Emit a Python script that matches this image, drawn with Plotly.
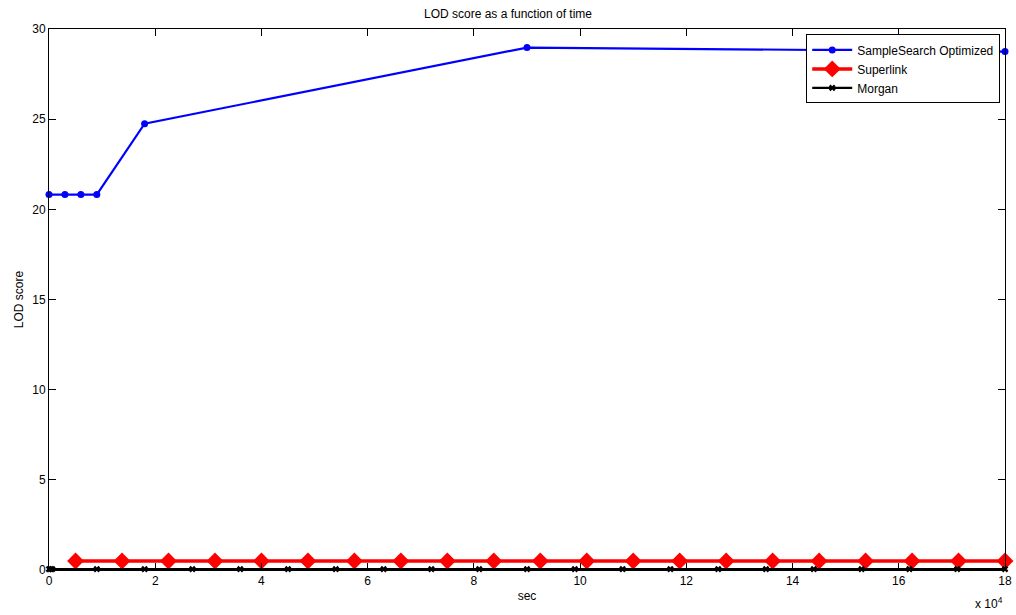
import plotly.graph_objects as go

# Data
ss_x = [0, 3000, 6000, 9000, 18000, 90000, 180000]
ss_y = [20.82, 20.82, 20.82, 20.82, 24.75, 28.97, 28.75]

sl_x = [5000, 13750, 22500, 31250, 40000, 48750, 57500, 66250, 75000, 83750,
        92500, 101250, 110000, 118750, 127500, 136250, 145000, 153750,
        162500, 171250, 180000]
sl_y = [0.5] * 21

mo_x = [0, 300, 600, 9000, 18000, 27000, 36000, 45000, 54000, 63000, 72000,
        81000, 90000, 99000, 108000, 117000, 126000, 135000, 144000, 153000,
        162000, 171000, 180000]
mo_y = [0.05] * 23

xtick_vals = [0, 20000, 40000, 60000, 80000, 100000, 120000, 140000, 160000, 180000]
xtick_text = ["0", "2", "4", "6", "8", "10", "12", "14", "16", "18"]
ytick_vals = [0, 5, 10, 15, 20, 25, 30]

FONT = "Liberation Sans, Arial, sans-serif"

fig = go.Figure()
fig.add_trace(go.Scatter(x=ss_x, y=ss_y, mode="lines+markers", name="SampleSearch Optimized",
                         line=dict(color="#0000ff", width=2.2),
                         marker=dict(symbol="circle", size=7, color="#0000ff"),
                         cliponaxis=False))
fig.add_trace(go.Scatter(x=sl_x, y=sl_y, mode="lines+markers", name="Superlink",
                         line=dict(color="#ff0000", width=3.5),
                         marker=dict(symbol="diamond", size=13, color="#ff0000"),
                         cliponaxis=False))
fig.add_trace(go.Scatter(x=mo_x, y=mo_y, mode="lines+markers", name="Morgan",
                         line=dict(color="#000000", width=2.2),
                         marker=dict(symbol="x", size=6, color="#000000"),
                         cliponaxis=False))

fig.update_layout(
    width=1016, height=615,
    margin=dict(l=49, r=11, t=29, b=45, autoexpand=False),
    paper_bgcolor="white", plot_bgcolor="white",
    font=dict(family=FONT, size=12, color="black"),
    title=dict(text="LOD score as a function of time", x=0.5, xanchor="center",
               y=0.985, yanchor="top", font=dict(size=12)),
    showlegend=True,
    legend=dict(x=0.995, y=0.99, xanchor="right", yanchor="top",
                bgcolor="white", bordercolor="black", borderwidth=1,
                font=dict(size=12), tracegroupgap=0, itemwidth=40),
    xaxis=dict(range=[0, 180000], tickvals=xtick_vals, ticktext=xtick_text,
               ticks="inside", ticklen=7, tickcolor="black", showgrid=False,
               zeroline=False, showline=True, linecolor="black", linewidth=1,
               mirror="ticks", automargin=False,
               title=dict(text="sec", standoff=4, font=dict(size=12))),
    yaxis=dict(range=[0, 30], tickvals=ytick_vals,
               ticks="inside", ticklen=7, tickcolor="black", showgrid=False,
               zeroline=False, showline=True, linecolor="black", linewidth=1,
               mirror="ticks", automargin=False,
               title=dict(text="LOD score", standoff=6, font=dict(size=12))),
    annotations=[dict(text="x 10<sup>4</sup>", xref="paper", yref="paper",
                      x=1.0, y=-0.042, xanchor="right", yanchor="top",
                      showarrow=False, font=dict(size=12))],
)

fig.write_html("out.html")
